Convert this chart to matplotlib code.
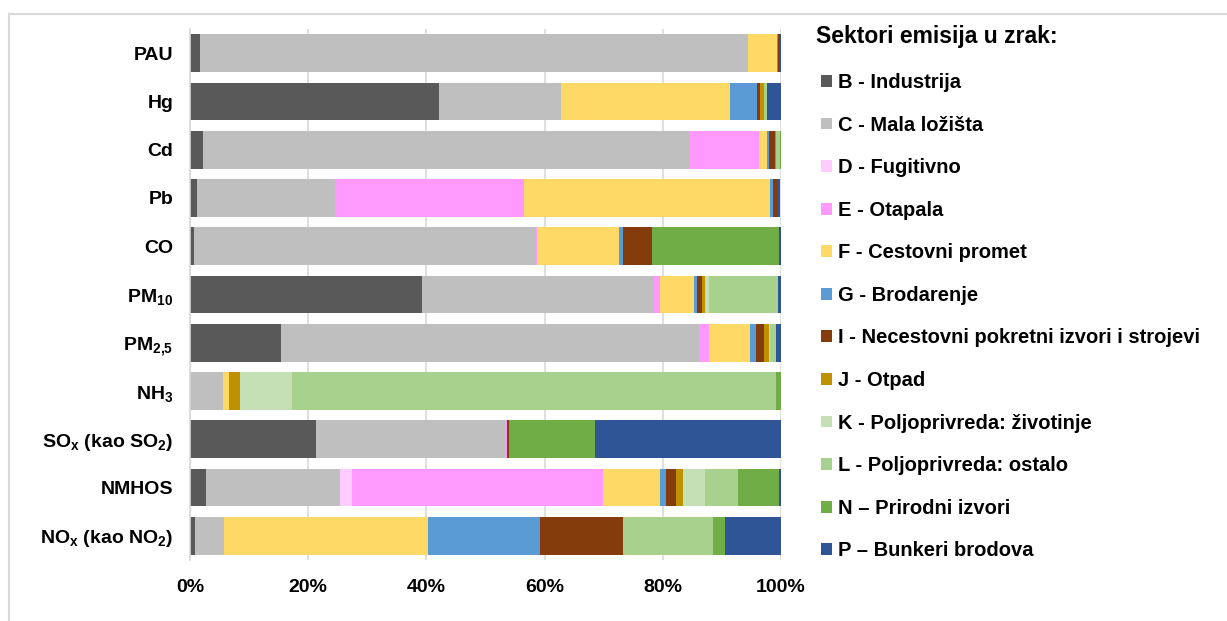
import matplotlib
matplotlib.use("Agg")
import matplotlib.pyplot as plt
from matplotlib.lines import Line2D
import numpy as np

plt.rcParams['font.family'] = ['Liberation Sans', 'DejaVu Sans']
plt.rcParams['font.weight'] = 'bold'
plt.rcParams['mathtext.fontset'] = 'custom'
plt.rcParams['mathtext.rm'] = 'Liberation Sans:bold'
plt.rcParams['mathtext.it'] = 'Liberation Sans:bold'
plt.rcParams['mathtext.bf'] = 'Liberation Sans:bold'

# categories, top to bottom
categories = ['PAU', 'Hg', 'Cd', 'Pb', 'CO', 'PM$_{10}$', 'PM$_{2{,}5}$', 'NH$_{3}$',
              'SO$_{x}$ (kao SO$_{2}$)', 'NMHOS', 'NO$_{x}$ (kao NO$_{2}$)']

# share of each sector (%)
B = [1.7, 42.1, 2.2, 1.1, 0.7, 39.2, 15.4, 0.0, 21.3, 2.7, 0.9]
C = [92.8, 20.7, 82.4, 23.4, 57.8, 39.3, 70.8, 5.5, 32.0, 22.6, 4.9]
D = [0.0, 0.0, 0.0, 0.0, 0.0, 0.0, 0.0, 0.0, 0.0, 2.1, 0.0]
E = [0.0, 0.0, 11.6, 32.0, 0.2, 1.1, 1.6, 0.1, 0.3, 42.5, 0.0]
F = [4.9, 28.5, 1.4, 41.6, 13.9, 5.6, 7.0, 1.0, 0.0, 9.7, 34.5]
G = [0.1, 4.7, 0.4, 0.5, 0.7, 0.6, 1.0, 0.0, 0.0, 0.9, 18.9]
I = [0.3, 0.5, 1.0, 0.9, 4.9, 0.9, 1.4, 0.0, 0.4, 1.8, 14.0]
J = [0.0, 0.6, 0.2, 0.0, 0.0, 0.4, 0.7, 1.8, 0.0, 1.2, 0.0]
K = [0.0, 0.1, 0.0, 0.0, 0.0, 0.7, 0.3, 8.9, 0.0, 3.6, 0.0]
L = [0.0, 0.4, 0.6, 0.0, 0.0, 11.7, 1.0, 81.9, 0.0, 5.6, 15.3]
N = [0.0, 0.0, 0.2, 0.0, 21.5, 0.0, 0.0, 0.8, 14.5, 6.9, 2.0]
P = [0.2, 2.4, 0.1, 0.4, 0.3, 0.5, 0.8, 0.0, 31.5, 0.4, 9.5]

sectors = ['B - Industrija', 'C - Mala ložišta', 'D - Fugitivno', 'E - Otapala',
           'F - Cestovni promet', 'G - Brodarenje',
           'I - Necestovni pokretni izvori i strojevi', 'J - Otpad',
           'K - Poljoprivreda: životinje', 'L - Poljoprivreda: ostalo',
           'N – Prirodni izvori', 'P – Bunkeri brodova']
series = [B, C, D, E, F, G, I, J, K, L, N, P]
colors = ['#595959', '#BFBFBF', '#FFCCFF', '#FF99FF', '#FFD966', '#5B9BD5',
          '#843C0C', '#BF9000', '#C5E0B4', '#A9D18E', '#70AD47', '#2F5597']

fig = plt.figure(figsize=(12.27, 6.21), dpi=100)
ax = fig.add_axes([190 / 1227, 1 - 560 / 621, 591 / 1227, 531 / 621])

y = np.arange(len(categories))
left = np.zeros(len(categories))
handles = []
for vals, col, lab in zip(series, colors, sectors):
    h = ax.barh(y, vals, left=left, height=0.78, color=col, label=lab, zorder=2)
    left += np.array(vals)
    handles.append(h)

ax.set_xlim(0, 100)
ax.set_ylim(len(categories) - 0.5, -0.5)
ax.set_yticks(y)
ax.set_yticklabels(categories)
ax.set_xticks([0, 20, 40, 60, 80, 100])
ax.set_xticklabels(['0%', '20%', '40%', '60%', '80%', '100%'])
ax.tick_params(axis='both', length=0, labelsize=14)
ax.tick_params(axis='y', pad=12)
ax.tick_params(axis='x', pad=14)
ax.grid(axis='x', color='#D9D9D9', linewidth=1.2, zorder=0)
for s in ['top', 'right', 'bottom']:
    ax.spines[s].set_visible(False)
ax.spines['left'].set_color('#D9D9D9')
ax.spines['left'].set_linewidth(1.2)

# legend title as separate text so the entries can sit indented
fig.text(816 / 1227, 1 - 36 / 621, 'Sektori emisija u zrak:', fontsize=16.5,
         fontweight='bold', ha='left', va='center')
leg = fig.legend(handles=handles, loc='upper left',
                 bbox_to_anchor=(821 / 1227, 1 - 73 / 621),
                 frameon=False, prop={'weight': 'bold', 'size': 14.5},
                 handlelength=0.53, handleheight=0.53, handletextpad=0.3,
                 labelspacing=1.171, borderpad=0, borderaxespad=0)

# thin frame around chart area
fig.add_artist(Line2D([9 / 1227, 1], [1 - 14 / 621, 1 - 14 / 621], color='#D9D9D9', linewidth=1.5))
fig.add_artist(Line2D([9 / 1227, 9 / 1227], [0, 1 - 14 / 621], color='#D9D9D9', linewidth=1.5))

fig.savefig('out.png', dpi=100)
